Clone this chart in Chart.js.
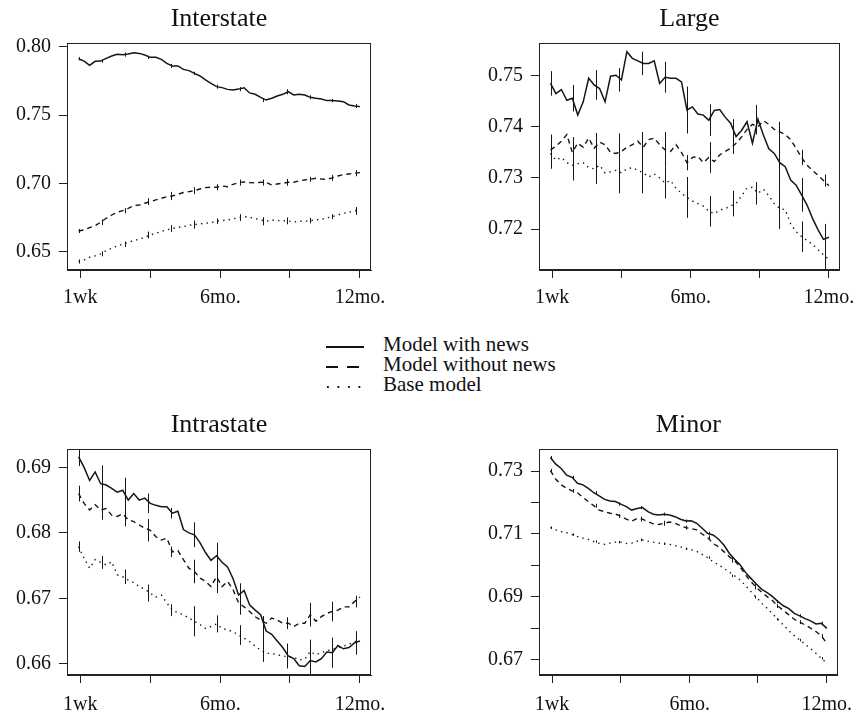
<!DOCTYPE html>
<html><head><meta charset="utf-8">
<script src="https://cdn.jsdelivr.net/npm/chart.js@4.4.1/dist/chart.umd.min.js"></script>
<style>
html,body{margin:0;padding:0;background:#fff;width:863px;height:716px;overflow:hidden;position:relative;}
canvas.pc{position:absolute;}
#legend{position:absolute;left:326px;top:334px;font-family:"Liberation Serif","Times New Roman",serif;font-size:21px;line-height:20px;color:#111;}
.row{position:relative;height:20px;width:240px;white-space:nowrap;}
.row svg{position:absolute;left:0;top:0;}
.row span{position:absolute;left:57px;top:0;}
</style></head>
<body>
<canvas id="c1" class="pc" width="431" height="316" style="left:0;top:0"></canvas>
<canvas id="c2" class="pc" width="432" height="316" style="left:431px;top:0"></canvas>
<canvas id="c3" class="pc" width="431" height="318" style="left:0;top:398px"></canvas>
<canvas id="c4" class="pc" width="432" height="318" style="left:431px;top:398px"></canvas>
<div id="legend">
  <div class="row"><svg width="40" height="20"><line x1="0" y1="13" x2="38" y2="13" stroke="#111" stroke-width="2.2"/></svg><span>Model with news</span></div>
  <div class="row"><svg width="40" height="20"><line x1="0" y1="13" x2="38" y2="13" stroke="#111" stroke-width="2.2" stroke-dasharray="12,9"/></svg><span>Model without news</span></div>
  <div class="row"><svg width="40" height="20"><line x1="1" y1="13" x2="38" y2="13" stroke="#111" stroke-width="1.8" stroke-dasharray="1.8,8.7"/></svg><span>Base model</span></div>
</div>
<script>
// ---- shared axis data ----
const weeks = [1,2,3,4,5,6,7,8,9,10,11,12,13,14,15,16,17,18,19,20,21,22,23,24,25,26,27,28,29,30,31,32,33,34,35,36,37,38,39,40,41,42,43,44,45,46,47,48,49,50,51,52];
const xTickVals = [1.3, 14.0, 26.7, 39.3, 52.0];
const xTickLabels = ['1wk', '', '6mo.', '', '12mo.'];
const errWeeks = [1.1, 5.2, 9.4, 13.6, 17.8, 21.9, 26.1, 30.3, 34.5, 38.7, 42.9, 47.0, 51.2];

// ---- Interstate ----
const interWith = [0.7912,0.7895,0.7864,0.7893,0.7895,0.7915,0.7932,0.7944,0.7942,0.7946,0.7956,0.7951,0.7939,0.7922,0.7922,0.7907,0.7878,0.7859,0.7859,0.7834,0.7825,0.7805,0.7786,0.7757,0.7732,0.7708,0.7701,0.7688,0.7683,0.7690,0.7700,0.7662,0.7652,0.7630,0.7610,0.7623,0.7640,0.7652,0.7671,0.7647,0.7652,0.7647,0.7630,0.7623,0.7618,0.7606,0.7606,0.7603,0.7598,0.7574,0.7567,0.7562];
const interWithout = [0.6653,0.6661,0.6678,0.6692,0.6717,0.6746,0.6770,0.6790,0.6802,0.6819,0.6839,0.6843,0.6856,0.6868,0.6880,0.6892,0.6904,0.6909,0.6921,0.6934,0.6941,0.6948,0.6960,0.6970,0.6973,0.6973,0.6982,0.6977,0.6994,0.7007,0.7011,0.7007,0.7004,0.7009,0.7007,0.6990,0.6997,0.7002,0.7009,0.7009,0.7019,0.7026,0.7031,0.7038,0.7033,0.7031,0.7041,0.7055,0.7065,0.7070,0.7075,0.7080];
const interBase = [0.6430,0.6442,0.6461,0.6471,0.6486,0.6510,0.6527,0.6544,0.6556,0.6571,0.6583,0.6593,0.6607,0.6624,0.6636,0.6651,0.6661,0.6671,0.6680,0.6685,0.6695,0.6700,0.6705,0.6710,0.6714,0.6724,0.6729,0.6734,0.6741,0.6751,0.6758,0.6753,0.6744,0.6734,0.6724,0.6734,0.6729,0.6729,0.6727,0.6719,0.6724,0.6724,0.6729,0.6734,0.6739,0.6749,0.6758,0.6770,0.6783,0.6790,0.6800,0.6807];
const interWithErr = [0.0012,0.0012,0.0015,0.0012,0.0015,0.0012,0.0015,0.0015,0.0015,0.0018,0.0015,0.0012,0.0015];
const interWithoutErr = [0.0015,0.0020,0.0020,0.0025,0.0030,0.0025,0.0022,0.0022,0.0022,0.0025,0.0018,0.0022,0.0022];
const interBaseErr = [0.0015,0.0018,0.0020,0.0025,0.0025,0.0030,0.0020,0.0025,0.0030,0.0025,0.0020,0.0018,0.0028];

// ---- Large ----
const largeWith = [0.7485,0.7465,0.7473,0.7452,0.7456,0.7423,0.7449,0.7495,0.7482,0.7475,0.7449,0.7499,0.7501,0.7492,0.7547,0.7534,0.7529,0.7524,0.7524,0.7529,0.7485,0.7497,0.7495,0.7495,0.7488,0.7433,0.7439,0.7425,0.7423,0.7413,0.7432,0.7434,0.7419,0.7407,0.7381,0.7393,0.7410,0.7368,0.7415,0.7384,0.7357,0.7348,0.7330,0.7322,0.7296,0.7286,0.7267,0.7247,0.7221,0.7199,0.7180,0.7184];
const largeWithout = [0.7355,0.7362,0.7372,0.7385,0.7350,0.7368,0.7360,0.7378,0.7358,0.7370,0.7365,0.7350,0.7348,0.7352,0.7360,0.7365,0.7372,0.7360,0.7375,0.7378,0.7365,0.7355,0.7352,0.7365,0.7350,0.7330,0.7340,0.7342,0.7330,0.7340,0.7332,0.7345,0.7352,0.7358,0.7368,0.7380,0.7395,0.7405,0.7400,0.7412,0.7405,0.7395,0.7390,0.7385,0.7375,0.7358,0.7340,0.7325,0.7315,0.7305,0.7295,0.7285];
const largeBase = [0.7348,0.7335,0.7340,0.7330,0.7325,0.7328,0.7330,0.7320,0.7318,0.7325,0.7310,0.7312,0.7315,0.7310,0.7318,0.7320,0.7315,0.7310,0.7302,0.7308,0.7300,0.7290,0.7295,0.7280,0.7270,0.7262,0.7255,0.7250,0.7245,0.7235,0.7230,0.7237,0.7240,0.7245,0.7250,0.7265,0.7280,0.7282,0.7270,0.7278,0.7265,0.7250,0.7240,0.7238,0.7210,0.7195,0.7185,0.7178,0.7170,0.7160,0.7150,0.7140];
const largeWithErr = [0.0024,0.0026,0.0029,0.0023,0.0023,0.0030,0.0046,0.0031,0.0034,0.0028,0.0050,0.0033,0.0030];
const largeWithoutErr = [0.0030,0.0030,0.0030,0.0035,0.0030,0.0035,0.0015,0.0030,0.0015,0.0015,0.0020,0.0015,0.0012];
const largeBaseErr = [0.0030,0.0030,0.0030,0.0040,0.0040,0.0030,0.0040,0.0030,0.0025,0.0022,0.0040,0.0030,0.0030];

// ---- Intrastate ----
const intraWith = [0.6916,0.6900,0.6880,0.6893,0.6875,0.6873,0.6868,0.6862,0.6865,0.6850,0.6860,0.6850,0.6853,0.6845,0.6842,0.6840,0.6840,0.6830,0.6833,0.6805,0.6800,0.6797,0.6785,0.6770,0.6758,0.6765,0.6755,0.6748,0.6730,0.6705,0.6712,0.6690,0.6682,0.6675,0.6650,0.6645,0.6635,0.6625,0.6612,0.6608,0.6597,0.6596,0.6605,0.6603,0.6608,0.6618,0.6617,0.6628,0.6623,0.6625,0.6632,0.6635];
const intraWithout = [0.6860,0.6845,0.6835,0.6843,0.6835,0.6837,0.6827,0.6825,0.6829,0.6820,0.6817,0.6812,0.6807,0.6804,0.6794,0.6789,0.6792,0.6771,0.6773,0.6759,0.6746,0.6741,0.6731,0.6726,0.6718,0.6733,0.6718,0.6726,0.6713,0.6693,0.6687,0.6680,0.6672,0.6667,0.6662,0.6670,0.6667,0.6662,0.6662,0.6657,0.6662,0.6662,0.6675,0.6665,0.6672,0.6677,0.6680,0.6682,0.6687,0.6687,0.6695,0.6702];
const intraBase = [0.6779,0.6761,0.6746,0.6759,0.6755,0.6751,0.6756,0.6736,0.6733,0.6728,0.6724,0.6718,0.6714,0.6708,0.6702,0.6705,0.6693,0.6682,0.6678,0.6675,0.6670,0.6665,0.6660,0.6654,0.6657,0.6661,0.6654,0.6652,0.6649,0.6644,0.6639,0.6634,0.6627,0.6621,0.6616,0.6616,0.6614,0.6612,0.6611,0.6610,0.6606,0.6607,0.6619,0.6614,0.6617,0.6620,0.6622,0.6625,0.6627,0.6630,0.6634,0.6635];
const intraWithErr = [0.0014,0.0028,0.0019,0.0015,0.0008,0.0019,0.0020,0.0018,0.0023,0.0019,0.0028,0.0023,0.0018];
const intraWithoutErr = [0.0012,0.0015,0.0019,0.0017,0.0008,0.0018,0.0025,0.0018,0.0010,0.0009,0.0018,0.0015,0.0009];
const intraBaseErr = [0.0008,0.0010,0.0011,0.0013,0.0009,0.0023,0.0013,0.0015,0.0013,0.0010,0.0018,0.0015,0.0013];

// ---- Minor ----
const minorWith = [0.7343,0.7322,0.7308,0.7287,0.7280,0.7261,0.7256,0.7245,0.7231,0.7221,0.7210,0.7205,0.7203,0.7195,0.7187,0.7176,0.7181,0.7184,0.7171,0.7163,0.7160,0.7163,0.7160,0.7155,0.7147,0.7141,0.7142,0.7134,0.7118,0.7102,0.7097,0.7084,0.7065,0.7039,0.7020,0.7002,0.6978,0.6959,0.6941,0.6924,0.6914,0.6901,0.6885,0.6872,0.6863,0.6848,0.6840,0.6831,0.6824,0.6814,0.6816,0.6800];
const minorWithout = [0.7301,0.7274,0.7256,0.7245,0.7237,0.7231,0.7216,0.7203,0.7190,0.7176,0.7171,0.7166,0.7163,0.7157,0.7147,0.7141,0.7149,0.7147,0.7139,0.7132,0.7130,0.7134,0.7138,0.7134,0.7126,0.7120,0.7117,0.7113,0.7100,0.7089,0.7070,0.7060,0.7044,0.7028,0.7015,0.6996,0.6970,0.6949,0.6930,0.6915,0.6901,0.6888,0.6871,0.6857,0.6843,0.6829,0.6820,0.6811,0.6801,0.6790,0.6776,0.6753];
const minorBase = [0.7120,0.7113,0.7108,0.7104,0.7098,0.7092,0.7087,0.7083,0.7076,0.7070,0.7067,0.7071,0.7074,0.7074,0.7070,0.7071,0.7077,0.7081,0.7077,0.7074,0.7071,0.7069,0.7067,0.7063,0.7059,0.7053,0.7050,0.7045,0.7035,0.7025,0.7012,0.7002,0.6991,0.6979,0.6967,0.6954,0.6936,0.6917,0.6899,0.6880,0.6864,0.6846,0.6829,0.6811,0.6793,0.6777,0.6763,0.6750,0.6736,0.6721,0.6705,0.6689];
const minorWithErr = [0.0005,0.0005,0.0005,0.0005,0.0005,0.0005,0.0005,0.0005,0.0005,0.0005,0.0005,0.0005,0.0005];
const minorWithoutErr = [0.0006,0.0006,0.0006,0.0006,0.0008,0.0008,0.0006,0.0006,0.0006,0.0006,0.0006,0.0006,0.0006];
const minorBaseErr = [0.0004,0.0004,0.0004,0.0004,0.0004,0.0004,0.0004,0.0004,0.0004,0.0004,0.0004,0.0004,0.0004];

// ---- y ticks ----
const interYTicks = [0.65, 0.70, 0.75, 0.80];
const largeYTicks = [0.72, 0.73, 0.74, 0.75];
const intraYTicks = [0.66, 0.67, 0.68, 0.69];
const minorYTicks = [0.67, 0.68, 0.69, 0.70, 0.71, 0.72, 0.73];
const minorYLabeled = [0.67, 0.69, 0.71, 0.73];

const FONT = '"Liberation Serif", "Times New Roman", serif';
Chart.defaults.font.family = FONT;
Chart.defaults.color = '#111';
Chart.defaults.animation = false;

const INK = '#161616';
const STYLES = [
  {dash: [], width: 1.5},
  {dash: [5, 4], width: 1.4},
  {dash: [1.4, 4.2], width: 1.4}
];

function lineDs(arr, st) {
  return {type: 'line', data: weeks.map((w, i) => ({x: w, y: arr[i]})),
    borderColor: INK, borderWidth: st.width, borderDash: st.dash, borderCapStyle: 'butt',
    pointRadius: 0, tension: 0, fill: false};
}

// error bars: drawn from the data arrays through the chart's own scales
const errPlugin = {
  id: 'errbars',
  afterDatasetsDraw(chart, args, opts) {
    const {ctx, chartArea: a, scales: {x: xs, y: ys}} = chart;
    ctx.save();
    ctx.beginPath();
    ctx.rect(a.left, a.top, a.right - a.left, a.bottom - a.top);
    ctx.clip();
    ctx.strokeStyle = INK;
    ctx.lineWidth = 1;
    ctx.beginPath();
    (opts.sets || []).forEach(set => {
      errWeeks.forEach((w, k) => {
        const c = set.values[Math.round(w) - 1];
        const px = Math.round(xs.getPixelForValue(w)) + 0.5;
        ctx.moveTo(px, ys.getPixelForValue(c + set.half[k]));
        ctx.lineTo(px, ys.getPixelForValue(c - set.half[k]));
      });
    });
    ctx.stroke();
    ctx.restore();
  }
};

const boxPlugin = {
  id: 'box',
  afterDatasetsDraw(chart) {
    const {ctx, chartArea: a} = chart;
    ctx.save();
    ctx.strokeStyle = '#222';
    ctx.lineWidth = 1;
    ctx.strokeRect(Math.round(a.left) + 0.5, Math.round(a.top) + 0.5, Math.round(a.right - a.left) - 1, Math.round(a.bottom - a.top) - 1);
    ctx.restore();
  }
};

function panel(id, title, series, halves, yMin, yMax, yTicks, yLabeled, L) {
  const datasets = series.map((s, i) => lineDs(s, STYLES[i]));
  const sets = series.map((s, i) => ({values: s, half: halves[i]}));
  new Chart(document.getElementById(id), {
    type: 'line',
    data: {datasets},
    plugins: [errPlugin, boxPlugin],
    options: {
      responsive: false, animation: false, events: [], devicePixelRatio: 1,
      layout: {padding: {left: 0, right: L.padRight, top: 0, bottom: 0}},
      plugins: {
        legend: {display: false}, tooltip: {enabled: false},
        errbars: {sets},
        title: {display: true, text: title, fullSize: false, color: '#111',
          font: {family: FONT, size: 26, weight: 'normal'}, padding: {top: L.titleTop, bottom: L.titleBottom}}
      },
      scales: {
        x: {type: 'linear', min: -1.1, max: 54.0, offset: false,
          afterBuildTicks: s => { s.ticks = xTickVals.map(v => ({value: v})); },
          afterFit: s => { s.height = L.xAxisH; },
          ticks: {callback: (v, i) => xTickLabels[i], font: {family: FONT, size: 20, weight: 'normal'}, padding: L.xPad, maxRotation: 0, autoSkip: false, color: '#111'},
          grid: {drawOnChartArea: false, drawTicks: true, tickLength: 8, color: '#222', lineWidth: 1},
          border: {display: true, color: '#222'}},
        y: {type: 'linear', min: yMin, max: yMax,
          afterBuildTicks: s => { s.ticks = yTicks.map(v => ({value: v})); },
          afterFit: s => { s.width = L.yAxisW; },
          ticks: {callback: v => yLabeled.some(t => Math.abs(t - v) < 1e-9) ? v.toFixed(2) : '', font: {family: FONT, size: 20, weight: 'normal'}, padding: 8, autoSkip: false, color: '#111'},
          grid: {drawOnChartArea: false, drawTicks: true, tickLength: 8, color: '#222', lineWidth: 1},
          border: {display: true, color: '#222'}}
      }
    }
  });
}

const topL = {padRight: 60, yAxisW: 67, xAxisH: 46, titleTop: 3.4, titleBottom: 8.4, xPad: 8};
const topR = {padRight: 19, yAxisW: 108, xAxisH: 46, titleTop: 3.4, titleBottom: 8.4, xPad: 8};
const botL = {padRight: 60, yAxisW: 67, xAxisH: 41, titleTop: 11.4, titleBottom: 8.4, xPad: 10};
const botR = {padRight: 19, yAxisW: 108, xAxisH: 41, titleTop: 11.4, titleBottom: 8.4, xPad: 10};

panel('c1', 'Interstate', [interWith, interWithout, interBase], [interWithErr, interWithoutErr, interBaseErr], 0.6368, 0.8027, interYTicks, interYTicks, topL);
panel('c2', 'Large', [largeWith, largeWithout, largeBase], [largeWithErr, largeWithoutErr, largeBaseErr], 0.7120, 0.7564, largeYTicks, largeYTicks, topR);
panel('c3', 'Intrastate', [intraWith, intraWithout, intraBase], [intraWithErr, intraWithoutErr, intraBaseErr], 0.6583, 0.6928, intraYTicks, intraYTicks, botL);
panel('c4', 'Minor', [minorWith, minorWithout, minorBase], [minorWithErr, minorWithoutErr, minorBaseErr], 0.6652, 0.7370, minorYTicks, minorYLabeled, botR);
</script>
</body></html>
